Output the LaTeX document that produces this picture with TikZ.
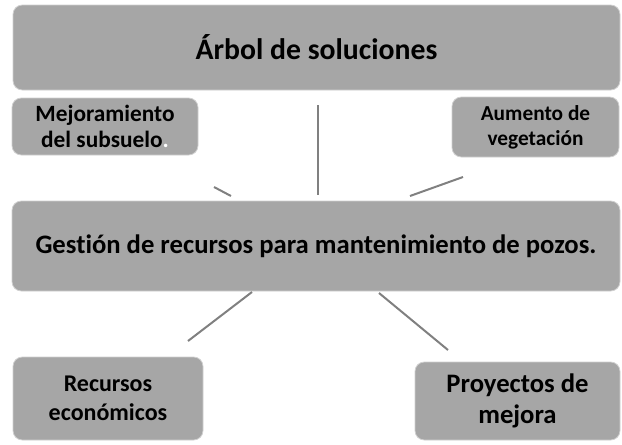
\documentclass[tikz,border=0pt]{standalone}
\usepackage{fontspec}
\setmainfont{Carlito}[RawFeature=-liga]
\definecolor{boxfill}{HTML}{A6A6A6}
\definecolor{boxedge}{HTML}{D0D0D0}
\definecolor{linkgray}{HTML}{808080}
\tikzset{
  gbox/.style={rectangle, rounded corners=7pt, fill=boxfill, draw=boxedge, line width=0.6pt,
    align=center, font=\bfseries, inner sep=0pt, text=black},
  link/.style={draw=linkgray, line width=1.5pt}
}
\begin{document}
\begin{tikzpicture}[x=0.75pt,y=-0.75pt]
\useasboundingbox (0,0) rectangle (622,444);
\node[gbox, minimum width=607*0.75pt, minimum height=85*0.75pt,
  font=\bfseries\fontsize{22.3}{25}\selectfont] (top) at (316.5,47.5) {Árbol de soluciones};
\node[gbox, minimum width=186*0.75pt, minimum height=57*0.75pt,
  font=\bfseries\fontsize{17.5}{19.5}\selectfont] (mej) at (105,126.5) {Mejoramiento\\del subsuelo\textcolor{white}{.}};
\node[gbox, minimum width=167*0.75pt, minimum height=60*0.75pt,
  font=\bfseries\fontsize{16}{18.5}\selectfont] (aum) at (535.5,127) {Aumento de\\vegetación};
\node[gbox, minimum width=608*0.75pt, minimum height=90*0.75pt,
  font=\bfseries\fontsize{20}{23}\selectfont] (main) at (316,246) {Gestión de recursos para mantenimiento de pozos.};
\node[gbox, minimum width=190*0.75pt, minimum height=83*0.75pt,
  font=\bfseries\fontsize{18}{21.5}\selectfont] (rec) at (108,398.5) {Recursos\\económicos};
\node[gbox, minimum width=205*0.75pt, minimum height=78*0.75pt,
  font=\bfseries\fontsize{20}{23.5}\selectfont] (proy) at (517.5,401) {Proyectos de\\mejora};
\coordinate (v1) at (318,105); \coordinate (v2) at (318,195);
\coordinate (r1) at (463,177); \coordinate (r2) at (410,196);
\coordinate (l1) at (214,187); \coordinate (l2) at (231,196);
\coordinate (bl1) at (252,292); \coordinate (bl2) at (188,341);
\coordinate (br1) at (379,293); \coordinate (br2) at (448,350);
\draw[link] (v1) -- (v2);
\draw[link] (r1) -- (r2);
\draw[link] (l1) -- (l2);
\draw[link] (bl1) -- (bl2);
\draw[link] (br1) -- (br2);
\end{tikzpicture}
\end{document}
